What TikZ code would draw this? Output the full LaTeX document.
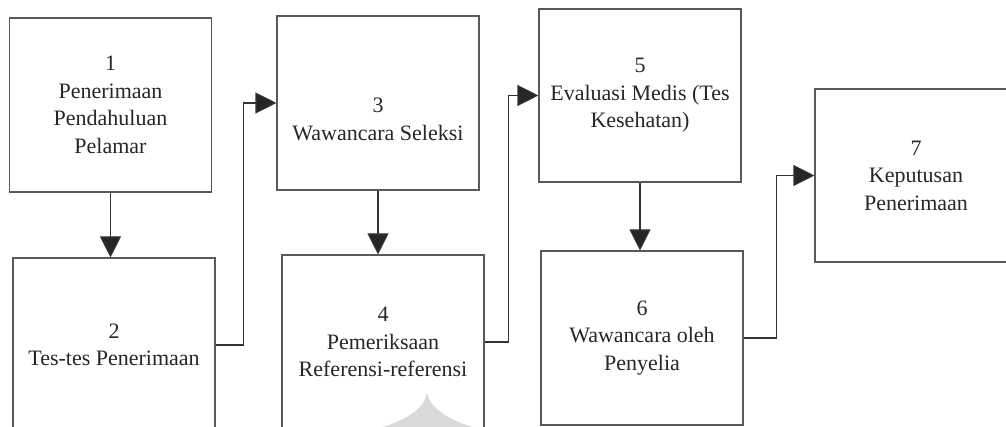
\documentclass[tikz,border=0pt]{standalone}
\usepackage{fontspec}
\setmainfont{Liberation Serif}
\usetikzlibrary{arrows.meta}
\begin{document}
\begin{tikzpicture}[x=1pt,y=-1pt]
% Styles
\tikzstyle{fleche}=[-{Triangle[length=21pt,width=21pt,fill=black!85]},line width=1.1pt,draw=black!80]
\tikzstyle{boite}=[draw=black!65,line width=1.1pt,rectangle,minimum width=202pt,minimum height=174pt,inner sep=0pt,align=center,text=black!85,font=\fontsize{22}{27.5}\selectfont]
% Dimensions
\def\Largeur{1006}
\def\Hauteur{427}
% Cadre
\useasboundingbox (0,0) rectangle (\Largeur,\Hauteur);
% Filigrane
\fill[black!15] (383,427) .. controls (410,418) and (424,408) .. (427,393)
  .. controls (431,408) and (445,418) .. (472,427) -- cycle;
% Noeuds
\node[boite] (E1) at (110.5,105) {1\\Penerimaan\\Pendahuluan\\Pelamar};
\node[boite] (E2) at (114,345) {2\\Tes-tes Penerimaan};
\node[boite] (E3) at (378,103) {\mbox{}\\[20pt]3\\Wawancara Seleksi};
\node[boite] (E4) at (383,342) {4\\Pemeriksaan\\Referensi-referensi};
\node[boite,minimum height=173pt] (E5) at (640,95.5) {5\\Evaluasi Medis (Tes\\Kesehatan)};
\node[boite] (E6) at (642,338) {6\\Wawancara oleh\\Penyelia};
\node[boite,minimum height=173pt] (E7) at (916,175.5) {7\\Keputusan\\Penerimaan};
% Arcs
\draw[fleche] (E1.south) -- (E1.south |- E2.north);
\draw[fleche] (E2.east) -- ++(28,0) |- (E3.west);
\draw[fleche] (E3.south) -- (E3.south |- E4.north);
\draw[fleche] (E4.east) -- ++(24,0) |- (E5.west);
\draw[fleche] (E5.south) -- (E5.south |- E6.north);
\draw[fleche] (E6.east) -- ++(33,0) |- (E7.west);
\end{tikzpicture}
\end{document}
